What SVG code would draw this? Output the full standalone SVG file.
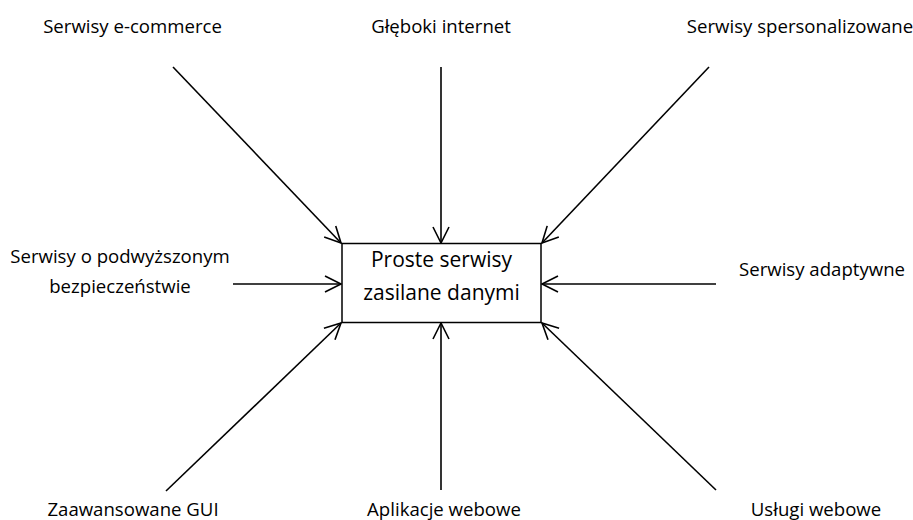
<svg xmlns="http://www.w3.org/2000/svg" width="913" height="520" viewBox="0 0 913 520">
  <style>
    .lbl { font-family: "Open Sans", "Liberation Sans", sans-serif; font-size: 18.6px; fill: #000; text-anchor: middle; }
    .big { font-size: 21px; }
    .box { fill: #fff; stroke: #000; stroke-width: 1.5; }
    .edge { stroke: #000; stroke-width: 1.6; fill: none; marker-end: url(#arrow); }
  </style>
  <defs>
    <marker id="arrow" markerUnits="userSpaceOnUse" markerWidth="20" markerHeight="20" viewBox="-18 -10 20 20" refX="0" refY="0" orient="auto">
      <path d="M-16,-8 L0,0 L-16,8" fill="none" stroke="#000" stroke-width="1.6"/>
    </marker>
  </defs>
  <rect width="913" height="520" fill="#fff"/>

  <g id="connectors">
    <line class="edge" x1="173" y1="67" x2="341" y2="243"/>
    <line class="edge" x1="441" y1="67" x2="441" y2="243"/>
    <line class="edge" x1="709" y1="67" x2="542" y2="243"/>
    <line class="edge" x1="233" y1="284" x2="341" y2="284"/>
    <line class="edge" x1="716" y1="284" x2="542" y2="284"/>
    <line class="edge" x1="166" y1="491" x2="341" y2="323"/>
    <line class="edge" x1="441" y1="490" x2="441" y2="323"/>
    <line class="edge" x1="716" y1="490" x2="542" y2="323"/>
  </g>

  <g id="center">
    <rect class="box" x="342" y="243.5" width="199" height="79"/>
    <text class="lbl big" x="441.5" y="267">Proste serwisy</text>
    <text class="lbl big" x="441.5" y="300">zasilane danymi</text>
  </g>

  <g id="ecommerce"><text class="lbl" x="132.5" y="33">Serwisy e-commerce</text></g>
  <g id="deep-web"><text class="lbl" x="441" y="33">Głęboki internet</text></g>
  <g id="personalized"><text class="lbl" x="800" y="33">Serwisy spersonalizowane</text></g>
  <g id="secure">
    <text class="lbl" x="120" y="263">Serwisy o podwyższonym</text>
    <text class="lbl" x="120" y="293">bezpieczeństwie</text>
  </g>
  <g id="adaptive"><text class="lbl" x="822" y="276">Serwisy adaptywne</text></g>
  <g id="gui"><text class="lbl" x="133" y="516">Zaawansowane GUI</text></g>
  <g id="webapps"><text class="lbl" x="444" y="516">Aplikacje webowe</text></g>
  <g id="webservices"><text class="lbl" x="816" y="516">Usługi webowe</text></g>
</svg>
